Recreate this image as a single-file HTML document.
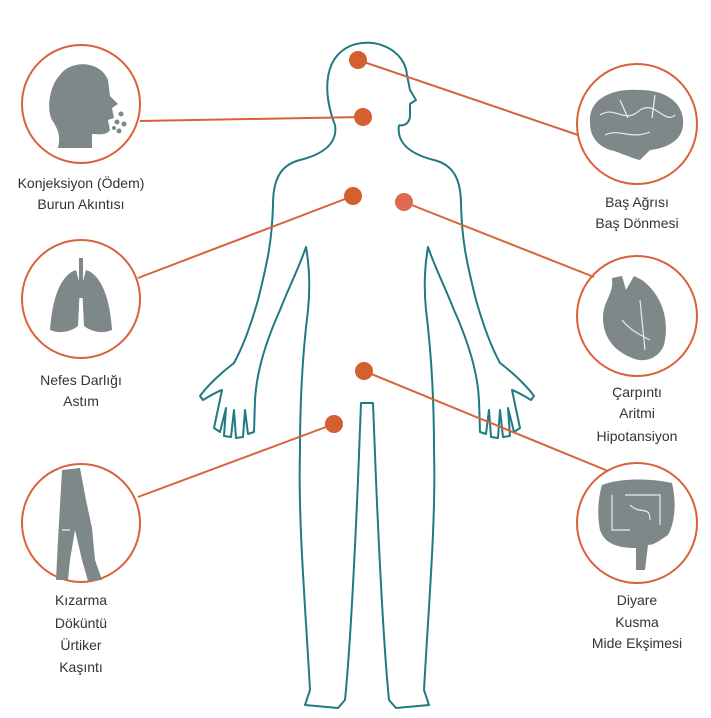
<!DOCTYPE html>
<html><head><meta charset="utf-8"><style>
html,body{margin:0;padding:0;background:#fff;width:711px;height:718px;overflow:hidden}
text{font-family:"Liberation Sans",sans-serif;font-size:14px;fill:#333;text-anchor:middle}
</style></head><body>
<svg width="711" height="718" viewBox="0 0 711 718" xmlns="http://www.w3.org/2000/svg">
<g fill="none" stroke="#1f7a82" stroke-width="2" stroke-linejoin="round">
<path d="M335,125 C325,100 320,60 350,46 C375,36 405,50 407,75 L410,90 L416,100 L410,104 L410,115 C410,125 402,126 399,125"/>
<g id="half">
<path d="M335,125 C338,145 320,155 300,160 C280,165 273,180 273,205 C272,240 268,260 258,300 C248,335 240,352 234,363 C222,372 208,385 200,396 L203,400 C210,396 216,392 222,390 L214,428 L220,432 L226,408 L224,436 L231,437 L234,410 L236,438 L243,437 L245,410 L248,434 L254,432 L255,400 C256,380 262,350 280,310 C290,285 300,265 306,247 C310,270 310,290 308,310 C303,350 300,400 300,450 C298,520 305,600 310,690 L305,705 L338,708 L345,700 C350,650 355,550 358,480 L361,403 L367,403"/>
</g>
<use href="#half" transform="translate(734,0) scale(-1,1)"/>
</g>
<g stroke="#d9623b" stroke-width="2" fill="none">
<circle cx="81" cy="104" r="59"/>
<circle cx="81" cy="299" r="59"/>
<circle cx="81" cy="523" r="59"/>
<circle cx="637" cy="124" r="60"/>
<circle cx="637" cy="316" r="60"/>
<circle cx="637" cy="523" r="60"/>
<line x1="358" y1="60" x2="578" y2="135"/>
<line x1="363" y1="117" x2="140" y2="121"/>
<line x1="353" y1="196" x2="138" y2="278"/>
<line x1="404" y1="202" x2="594" y2="277"/>
<line x1="364" y1="371" x2="608" y2="471"/>
<line x1="334" y1="424" x2="138" y2="497"/>
</g>
<g fill="#d4602f">
<circle cx="358" cy="60" r="9"/><circle cx="363" cy="117" r="9"/><circle cx="353" cy="196" r="9"/>
<circle cx="404" cy="202" r="9" fill="#dd6a4e"/><circle cx="364" cy="371" r="9"/><circle cx="334" cy="424" r="9"/>
</g>
<g fill="#7f8888">
<path d="M60,75 C70,60 100,60 108,80 L110,96 L118,104 L112,108 L114,118 L108,120 L110,130 C106,136 98,134 92,134 L92,148 L58,148 C60,138 60,132 52,120 C46,108 50,85 60,75 Z"/>
<circle cx="121" cy="114" r="2.5"/><circle cx="117" cy="122" r="2.5"/><circle cx="124" cy="124" r="2.5"/><circle cx="119" cy="131" r="2.5"/><circle cx="114" cy="128" r="2"/>
<path d="M76,270 C60,275 52,300 50,330 C60,334 70,332 78,326 L80,285 Z"/>
<path d="M86,270 C102,275 110,300 112,330 C102,334 92,332 84,326 L82,285 Z"/>
<rect x="79" y="258" width="4" height="40"/>
<path d="M590,123 C588,100 610,88 640,90 C668,90 685,105 683,125 C682,140 668,148 650,150 L640,160 C630,158 620,152 610,150 C596,145 590,135 590,123 Z"/>
<path d="M612,278 L622,276 L626,290 L634,276 L642,280 C662,295 670,320 664,345 C657,362 640,362 632,358 C612,350 603,335 603,318 C603,300 614,295 612,278 Z"/>
<path d="M602,485 C620,478 650,478 672,483 C676,500 676,520 668,535 C660,540 655,545 648,545 L645,570 L636,570 L636,548 C620,548 605,545 600,530 C597,515 598,498 602,485 Z"/>
<path d="M62,470 L80,468 L86,500 L92,528 L95,560 L102,580 L88,581 L82,560 L75,530 L70,560 L68,580 L56,580 L58,540 L60,505 Z"/>
</g>
<g stroke="#e8ecec" stroke-width="1.2" fill="none">
<path d="M600,115 C615,105 625,125 640,110 C655,100 665,125 675,115 M605,135 C620,128 630,140 650,132 M620,100 L628,118 M655,95 L652,118"/>
<path d="M612,495 L612,530 L630,530 M625,495 L660,495 L660,525 M630,505 C640,515 650,505 650,520 M62,530 L70,530"/>
<path d="M622,320 C630,330 640,335 650,340 M640,300 L645,350"/>
</g>
<text x="81" y="188">Konjeksiyon (Ödem)</text>
<text x="81" y="209">Burun Akıntısı</text>
<text x="81" y="385">Nefes Darlığı</text>
<text x="81" y="406">Astım</text>
<text x="81" y="605">Kızarma</text>
<text x="81" y="628">Döküntü</text>
<text x="81" y="650">Ürtiker</text>
<text x="81" y="672">Kaşıntı</text>
<text x="637" y="207">Baş Ağrısı</text>
<text x="637" y="228">Baş Dönmesi</text>
<text x="637" y="397">Çarpıntı</text>
<text x="637" y="418">Aritmi</text>
<text x="637" y="441">Hipotansiyon</text>
<text x="637" y="605">Diyare</text>
<text x="637" y="627">Kusma</text>
<text x="637" y="648">Mide Ekşimesi</text>
</svg>
</body></html>
